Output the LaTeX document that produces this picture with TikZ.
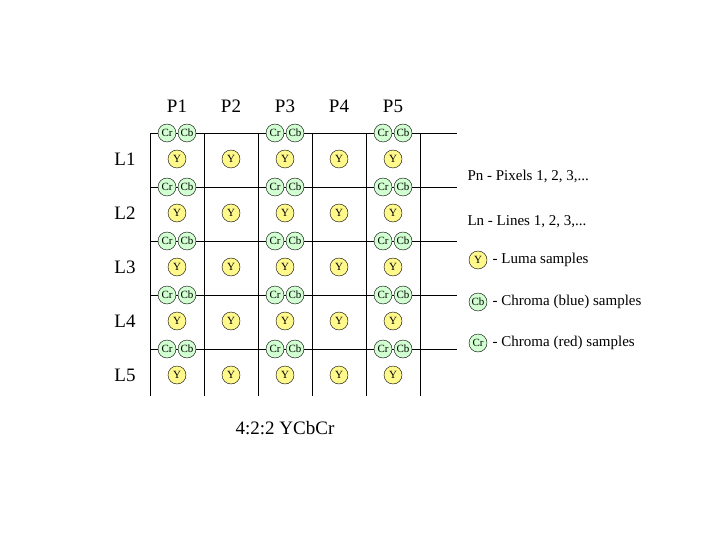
\documentclass[tikz,border=0pt]{standalone}
\usepackage{fontspec}
\setmainfont{Liberation Serif}
\usetikzlibrary{positioning}
\tikzset{lumaDot/.style={draw, circle, minimum size=18pt, inner sep=0pt, fill=yellow!45, font=\fontsize{11}{11}\selectfont}}
\tikzset{chromaDot/.style={draw, circle, minimum size=18pt, inner sep=0pt, fill=green!18, font=\fontsize{11}{11}\selectfont}}
\tikzset{bigLabel/.style={font=\fontsize{19}{19}\selectfont}}
\tikzset{legendText/.style={anchor=west, font=\fontsize{15}{15}\selectfont}}
\begin{document}
\begin{tikzpicture}[x=1pt,y=-1pt]
\useasboundingbox (0,0) rectangle (720,540);

% grid
\foreach \r in {0,...,4} {
  \draw (150,133+54*\r) -- (457,133+54*\r);
}
\foreach \c in {0,...,5} {
  \draw (150+54*\c,133) -- (150+54*\c,396);
}

% column and line labels
\foreach \c in {1,...,5} {
  \node[bigLabel] (p\c) at (123+54*\c,106) {P\c};
  \node[bigLabel] (l\c) at (125,105+54*\c) {L\c};
}

% samples
\foreach \r in {0,...,4} {
  \foreach \c in {0,...,4} {
    \node[lumaDot] (y\r\c) at (177+54*\c,159+54*\r) {Y};
  }
  \foreach \c in {0,2,4} {
    \node[chromaDot] (cr\r\c) at (167+54*\c,133+54*\r) {Cr};
    \node[chromaDot] (cb\r\c) at (187+54*\c,133+54*\r) {Cb};
  }
}

\node[bigLabel] (title) at (285,428) {4:2:2 YCbCr};

% legend
\node[legendText] (pn) at (464,176) {Pn - Pixels 1, 2, 3,...};
\node[legendText] (ln) at (464,222) {Ln - Lines 1, 2, 3,...};
\node[lumaDot] (keyY) at (478,260) {Y};
\node[legendText, right=2pt of keyY] (keyYText) {- Luma samples};
\node[chromaDot] (keyCb) at (478,302) {Cb};
\node[legendText, right=2pt of keyCb] (keyCbText) {- Chroma (blue) samples};
\node[chromaDot] (keyCr) at (478,343) {Cr};
\node[legendText, right=2pt of keyCr] (keyCrText) {- Chroma (red) samples};
\end{tikzpicture}
\end{document}
